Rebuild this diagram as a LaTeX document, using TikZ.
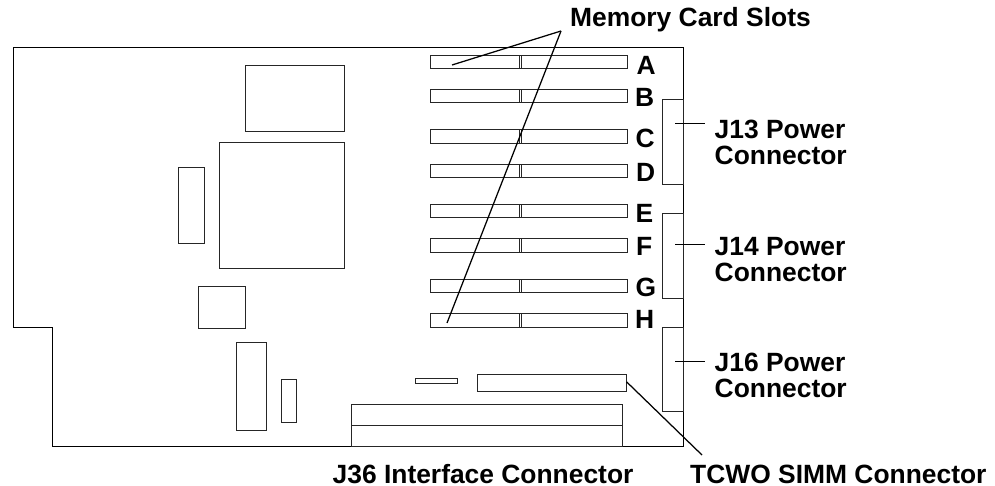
\documentclass[tikz,border=0pt]{standalone}
\usepackage{fontspec}
\setmainfont{Liberation Sans}
\newcommand{\partbox}[5]{%
  \pgfmathsetmacro{\bw}{#4-#2}\pgfmathsetmacro{\bh}{#5-#3}%
  \pgfmathsetmacro{\bx}{(#4+#2)/2}\pgfmathsetmacro{\by}{(#5+#3)/2}%
  \node[part,minimum width=\bw pt,minimum height=\bh pt] (#1) at (\bx,\by) {};}
\newcommand{\memslot}[3]{%
  \partbox{#1}{430.5}{#2}{627.5}{#3}
  \partbox{#1div}{519}{#2}{521}{#3}}
\begin{document}
\begin{tikzpicture}[x=1pt,y=-1pt,
  part/.style={draw=black!85,line width=1pt,inner sep=0pt,outer sep=0pt,fill=none},
  edge/.style={draw=black,line width=1pt,line join=miter},
  leader/.style={draw=black,line width=1.25pt},
  lbl/.style={font=\fontsize{26.4}{26}\selectfont\bfseries,inner sep=0pt,anchor=base west},
  lbltwo/.style={lbl,align=left},
  slotlbl/.style={lbl}]
\useasboundingbox (0,0) rectangle (995,486);
\draw[edge] (13,47.5) -- (683.5,47.5) -- (683.5,446.5) -- (52.5,446.5) -- (52.5,327) -- (13,327) -- cycle;
\partbox{c1}{245}{66}{344}{132}
\partbox{c2}{219}{143}{344}{268}
\partbox{c3}{178}{168}{204}{244}
\partbox{c4}{198}{286}{245}{328.5}
\partbox{c5}{236}{342.5}{266}{430}
\partbox{c6}{281.5}{379}{296}{422}
\partbox{c7}{415}{378.5}{457.5}{383.5}
\partbox{simm}{477}{374.5}{626.5}{391}
\partbox{j36a}{351}{404}{622}{425.5}
\partbox{j36b}{351}{425.5}{622}{446.5}
\memslot{A}{55.5}{69}
\memslot{B}{90}{103}
\memslot{C}{130}{143.5}
\memslot{D}{164.5}{178}
\memslot{E}{204.5}{218}
\memslot{F}{239}{252.5}
\memslot{G}{279}{292.5}
\memslot{H}{313.5}{327}
\partbox{j13}{662}{100}{683.5}{185}
\partbox{j14}{662}{214}{683.5}{298.5}
\partbox{j16}{662}{327}{683.5}{411.5}
\node[slotlbl] (lA) at (636.5,75) {A};
\node[slotlbl] (lB) at (635,106.5) {B};
\node[slotlbl] (lC) at (635.5,148) {C};
\node[slotlbl] (lD) at (636,181.5) {D};
\node[slotlbl] (lE) at (635.5,222.5) {E};
\node[slotlbl] (lF) at (636,255) {F};
\node[slotlbl] (lG) at (635.5,296) {G};
\node[slotlbl] (lH) at (635,328) {H};
\node[lbl] (mem) at (570,26.5) {Memory Card Slots};
\node[lbltwo] (t13) at (714.5,165) {J13 Power\\Connector};
\node[lbltwo] (t14) at (714.5,281) {J14 Power\\Connector};
\node[lbltwo] (t16) at (714.5,397) {J16 Power\\Connector};
\node[lbl] (t36) at (332.5,483) {J36 Interface Connector};
\node[lbl] (tcwo) at (690,483) {TCWO SIMM Connector};
\coordinate (apex) at (561,31);
\coordinate (pA) at (452,65);
\coordinate (pH) at (447,323);
\draw[leader] (apex) -- (pA);
\draw[leader] (apex) -- (pH);
\coordinate (e13) at (675,124); \coordinate (f13) at (705,124);
\coordinate (e14) at (675,245); \coordinate (f14) at (705,245);
\coordinate (e16) at (675,361); \coordinate (f16) at (705,361);
\draw[leader,line width=1pt] (e13) -- (f13);
\draw[leader,line width=1pt] (e14) -- (f14);
\draw[leader,line width=1pt] (e16) -- (f16);
\coordinate (sEnd) at (702,455);
\draw[leader] (simm.east) ++(0,-1) -- (sEnd);
\end{tikzpicture}
\end{document}
